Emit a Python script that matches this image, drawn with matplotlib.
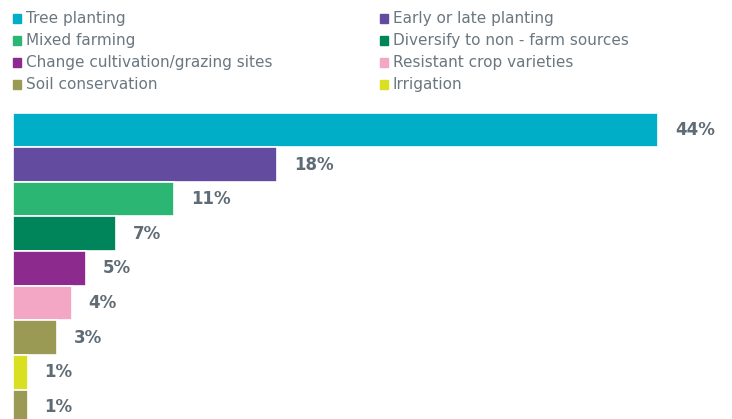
import matplotlib
matplotlib.use("Agg")
import matplotlib.pyplot as plt
from matplotlib.patches import Rectangle

categories = ["Tree planting", "Early or late planting", "Mixed farming",
              "Diversify to non - farm sources", "Change cultivation/grazing sites",
              "Resistant crop varieties", "Soil conservation", "Irrigation", "Other"]
values = [44, 18, 11, 7, 5, 4, 3, 1, 1]
colors = ["#00aec7", "#634ca0", "#2bb673", "#00855a", "#8c2a8e",
          "#f4a7c4", "#9b9a55", "#d9e021", "#9b9a55"]
n_legend = 8  # last bar has no legend entry in the source

TXT = "#6b7780"
LBL = "#5f6b75"

W, H = 732, 419
fig = plt.figure(figsize=(W / 100, H / 100), dpi=100)

# bar area: top at ~113px, runs off the bottom of the figure
top_px, pitch = 112.7, 34.6
ymax = (H - top_px) / pitch - 0.5
ax = fig.add_axes([13 / W, 0, (W - 13) / W, (H - top_px) / H])
ax.barh(range(len(values)), values, height=1.0, color=colors,
        edgecolor="white", linewidth=1.2)
ax.set_xlim(0, (W - 13) / 14.66)
ax.set_ylim(ymax, -0.5)
ax.axis("off")
for i, v in enumerate(values):
    ax.text(v + 1.15, i, f"{v}%", va="center", ha="left", fontsize=12,
            fontweight="bold", color=LBL)

# legend, two columns
for k in range(n_legend):
    col, row = k % 2, k // 2
    x0 = 13 if col == 0 else 380
    yc = 19 + row * 21.7
    fig.patches.append(Rectangle((x0 / W, 1 - (yc + 4.5) / H), 7.5 / W, 9 / H,
                                 transform=fig.transFigure, color=colors[k]))
    fig.text((x0 + 13) / W, 1 - yc / H, categories[k], va="center", ha="left",
             fontsize=11, color=TXT)

fig.savefig("out.png", dpi=100, facecolor="white")
